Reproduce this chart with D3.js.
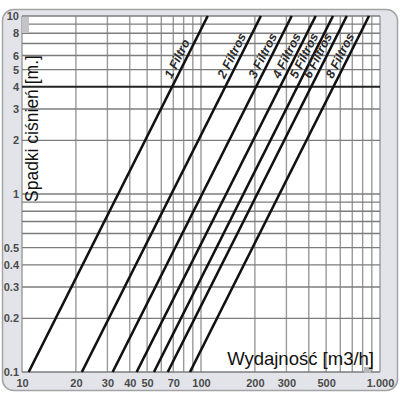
<!DOCTYPE html>
<html>
<head>
<meta charset="utf-8">
<script src="https://cdn.jsdelivr.net/npm/d3@7"></script>
<style>
  body { margin: 0; background: #fff; }
  svg { display: block; font-family: "Liberation Sans", Arial, sans-serif; }
</style>
</head>
<body>
<svg id="chart" width="400" height="400"></svg>
<script>
// filter curves: flow (m3/h) where the drop is 0.1 m, curve rises as Q^2
const filterCounts = [1, 2, 3, 4, 5, 6, 8]
const filterLabels = ["1 Filtro", "2 Filtros", "3 Filtros", "4 Filtros", "5 Filtros", "6 Filtros", "8 Filtros"]
const flowAtLow = [10.9, 21.6, 32.1, 43.7, 54.6, 65.2, 86.8]
const flowAtHigh = [109, 216, 321, 437, 546, 652, 868]

const xTicks = [10, 20, 30, 40, 50, 70, 100, 200, 300, 500, 1000]
const xTickLabels = ["10", "20", "30", "40", "50", "70", "100", "200", "300", "500", "1.000"]
const yTicks = [0.1, 0.2, 0.3, 0.4, 0.5, 1, 2, 3, 4, 5, 6, 8, 10]
const yTickLabels = ["0.1", "0.2", "0.3", "0.4", "0.5", "1", "2", "3", "4", "5", "6", "8", "10"]

const xGrid = [10, 20, 30, 40, 50, 60, 70, 80, 90, 100, 200, 300, 400, 500, 600, 700, 800, 900, 1000]
const yGrid = [0.1, 0.2, 0.3, 0.4, 0.5, 0.6, 0.7, 0.8, 0.9, 1, 2, 3, 5, 6, 7, 8, 9, 10]
const yStrong = [4]

const svg = d3.select("#chart")

const plotL = 22, plotR = 380, plotT = 16, plotB = 372

// frame
svg.append("rect")
  .attr("x", 2.5).attr("y", 9.5)
  .attr("width", 395).attr("height", 381)
  .attr("rx", 11).attr("ry", 11)
  .style("fill", "#e3e4e9")
  .style("stroke", "#a3a3a6")
  .style("stroke-width", 1.5)

svg.append("rect")
  .attr("x", plotL).attr("y", plotT)
  .attr("width", plotR - plotL).attr("height", plotB - plotT)
  .style("fill", "#fff")

var x = d3.scaleLog()
  .domain([10, 1000])
  .range([plotL, plotR])

var y = d3.scaleLog()
  .domain([0.1, 10])
  .range([plotB, plotT])

// grid
svg.append("g")
  .selectAll("line")
  .data(xGrid)
  .enter()
  .append("line")
  .attr("x1", d => x(d)).attr("x2", d => x(d))
  .attr("y1", plotT).attr("y2", plotB)
  .style("stroke", "#9a9a9a")
  .style("stroke-width", 1.4)

svg.append("g")
  .selectAll("line")
  .data(yGrid)
  .enter()
  .append("line")
  .attr("x1", plotL).attr("x2", plotR)
  .attr("y1", d => y(d)).attr("y2", d => y(d))
  .style("stroke", "#7c7c7c")
  .style("stroke-width", 1.4)

svg.append("g")
  .selectAll("line")
  .data(yStrong)
  .enter()
  .append("line")
  .attr("x1", plotL).attr("x2", plotR)
  .attr("y1", d => y(d)).attr("y2", d => y(d))
  .style("stroke", "#222")
  .style("stroke-width", 2)

// little marks in the corners
svg.append("rect")
  .attr("x", 22).attr("y", 17).attr("width", 7).attr("height", 16)
  .style("fill", "#c4c4c8")
svg.append("rect")
  .attr("x", 364).attr("y", 367).attr("width", 7).attr("height", 6)
  .style("fill", "#b8b8bc")

// curves
const curves = filterCounts.map((n, i) => ({
  n: n,
  label: filterLabels[i],
  pts: [[flowAtLow[i], 0.1], [flowAtHigh[i], 10]]
}))

const line = d3.line()
  .x(d => x(d[0]))
  .y(d => y(d[1]))

svg.append("g")
  .selectAll("path")
  .data(curves)
  .enter()
  .append("path")
  .attr("d", d => line(d.pts))
  .style("fill", "none")
  .style("stroke", "#111")
  .style("stroke-width", 2.6)

// labels along the curves
const labelY = 81
svg.append("g")
  .selectAll("text")
  .data(curves)
  .enter()
  .append("text")
  .attr("transform", d => {
    const x0 = x(d.pts[0][0]), y0 = y(d.pts[0][1])
    const x1 = x(d.pts[1][0]), y1 = y(d.pts[1][1])
    const t = (labelY - y0) / (y1 - y0)
    const px = x0 + t * (x1 - x0)
    const ang = Math.atan2(y1 - y0, x1 - x0) * 180 / Math.PI
    return `translate(${px},${labelY}) rotate(${ang})`
  })
  .attr("dy", -4)
  .style("font-size", "12.5px")
  .style("font-style", "italic")
  .style("font-weight", "bold")
  .style("fill", "#2a2a2a")
  .text(d => d.label)

// axes labels
svg.append("g")
  .attr("transform", `translate(0,${plotB})`)
  .call(d3.axisBottom(x).tickValues(xTicks).tickFormat((d, i) => xTickLabels[i]).tickSize(0).tickPadding(7))
  .call(g => g.select(".domain").remove())
  .selectAll("text")
  .style("font-size", "11px")
  .style("font-weight", "bold")
  .style("font-family", "Liberation Sans, Arial, sans-serif")
  .style("fill", "#4a4a4a")

svg.append("g")
  .attr("transform", `translate(${plotL},0)`)
  .call(d3.axisLeft(y).tickValues(yTicks).tickFormat((d, i) => yTickLabels[i]).tickSize(0).tickPadding(3))
  .call(g => g.select(".domain").remove())
  .selectAll("text")
  .style("font-size", "11px")
  .style("font-weight", "bold")
  .style("font-family", "Liberation Sans, Arial, sans-serif")
  .style("fill", "#4a4a4a")

// titles
svg.append("text")
  .attr("transform", "translate(38,202) rotate(-90)")
  .style("font-size", "17.5px")
  .style("fill", "#111")
  .text("Spadki ciśnień [m.]")

svg.append("text")
  .attr("x", 374).attr("y", 365)
  .attr("text-anchor", "end")
  .style("font-size", "18.5px")
  .style("fill", "#111")
  .text("Wydajność [m3/h]")
</script>
</body>
</html>
